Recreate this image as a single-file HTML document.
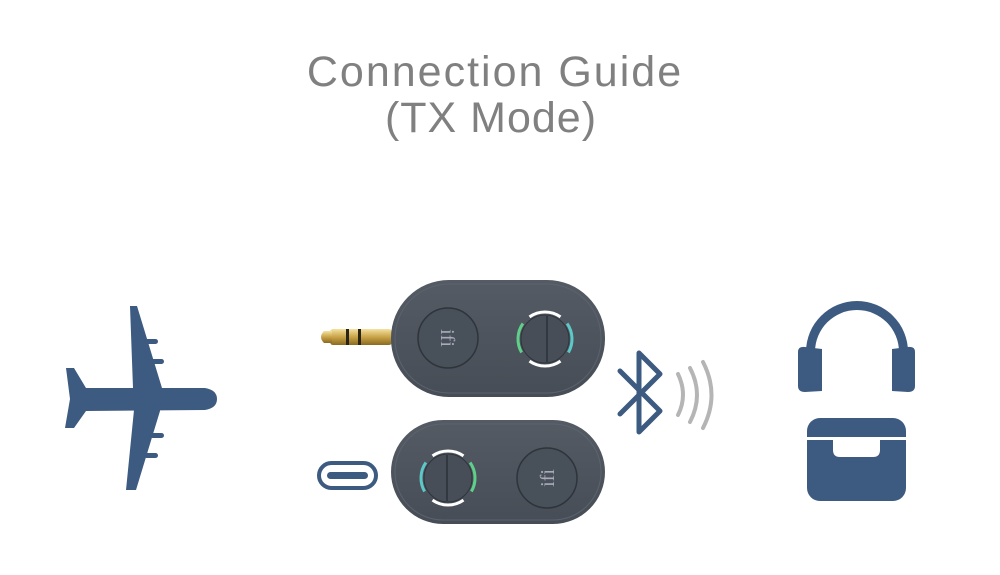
<!DOCTYPE html>
<html><head><meta charset="utf-8"><style>
html,body{margin:0;padding:0;background:#fff;}
svg{display:block}
</style></head><body>
<svg width="1000" height="575" viewBox="0 0 1000 575" xmlns="http://www.w3.org/2000/svg">
<defs>
<linearGradient id="gold" x1="0" y1="0" x2="0" y2="1">
<stop offset="0" stop-color="#f4e2a0"/><stop offset="0.5" stop-color="#c9a347"/><stop offset="1" stop-color="#8a6a22"/>
</linearGradient>
<linearGradient id="body" x1="0" y1="0" x2="0" y2="1">
<stop offset="0" stop-color="#555b64"/><stop offset="1" stop-color="#474d56"/>
</linearGradient>
</defs>
<g font-family="Liberation Sans, sans-serif" fill="#808080" text-anchor="middle">
<text x="495" y="86" font-size="43" letter-spacing="2">Connection Guide</text>
<text x="491" y="132" font-size="43" letter-spacing="1">(TX Mode)</text>
</g>

<!-- Plane -->
<g fill="#3d5a80">
<path d="M66,368 L74,368 L86,388 L205,388 Q217,390 217,399 Q217,408 205,410 L86,411 L74,428 L65,428 L70,399 Z"/>
<path d="M130,306 L137,306 L162,388 L160,411 L136,490 L126,490 L134,410 L133,388 Z"/>
<rect x="144" y="339" width="14" height="5" rx="2.5"/>
<rect x="150" y="359" width="14" height="5" rx="2.5"/>
<rect x="150" y="433" width="14" height="5" rx="2.5"/>
<rect x="144" y="453" width="14" height="5" rx="2.5"/>
</g>

<!-- Jack -->
<rect x="330" y="329" width="62" height="16" rx="3" fill="url(#gold)"/>
<path d="M324,331 Q318,337 324,343 L332,343 L332,331 Z" fill="url(#gold)"/>
<rect x="346" y="329" width="3" height="16" fill="#2a2418"/>
<rect x="358" y="329" width="3" height="16" fill="#2a2418"/>

<!-- Top device -->
<rect x="391" y="280" width="214" height="117" rx="58" fill="url(#body)"/>
<rect x="395" y="284" width="206" height="109" rx="54" fill="none" stroke="#5d636c" stroke-width="1"/>
<circle cx="448" cy="338" r="30" fill="#48505a" stroke="#2f343b" stroke-width="1.5"/>
<text x="448" y="345" font-family="Liberation Serif, serif" font-size="20" fill="#aab" text-anchor="middle" transform="rotate(90 448 338)">ifi</text>
<g fill="none" stroke-width="3">
<path d="M529.5,316.9 A27,27 0 0 1 560.5,316.9" stroke="#fff"/>
<path d="M560.5,361.1 A27,27 0 0 1 529.5,361.1" stroke="#fff"/>
<path d="M522.9,323.5 A27,27 0 0 0 521.6,352.5" stroke="#5fd08a"/>
<path d="M567.1,323.5 A27,27 0 0 1 568.4,352.5" stroke="#5cc8c8"/>
</g>
<circle cx="545" cy="339" r="24" fill="#474e58" stroke="#2f343b" stroke-width="1"/>
<line x1="547" y1="316" x2="547" y2="362" stroke="#2c3037" stroke-width="1.5"/>

<!-- USB C -->
<rect x="319" y="463" width="57" height="25" rx="12.5" fill="none" stroke="#3d5a80" stroke-width="4"/>
<rect x="327" y="472" width="41" height="7" rx="3.5" fill="#3d5a80"/>

<!-- Bottom device -->
<rect x="391" y="420" width="214" height="104" rx="52" fill="url(#body)"/>
<rect x="395" y="424" width="206" height="96" rx="48" fill="none" stroke="#5d636c" stroke-width="1"/>
<circle cx="547" cy="478" r="30" fill="#48505a" stroke="#2f343b" stroke-width="1.5"/>
<text x="547" y="485" font-family="Liberation Serif, serif" font-size="20" fill="#aab" text-anchor="middle" transform="rotate(-90 547 478)">ifi</text>
<g fill="none" stroke-width="3">
<path d="M432.5,455.9 A27,27 0 0 1 463.5,455.9" stroke="#fff"/>
<path d="M463.5,500.1 A27,27 0 0 1 432.5,500.1" stroke="#fff"/>
<path d="M425.9,462.5 A27,27 0 0 0 424.6,491.5" stroke="#5cc8c8"/>
<path d="M470.1,462.5 A27,27 0 0 1 471.4,491.5" stroke="#5fd08a"/>
</g>
<circle cx="448" cy="478" r="24" fill="#474e58" stroke="#2f343b" stroke-width="1"/>
<line x1="447" y1="455" x2="447" y2="501" stroke="#2c3037" stroke-width="1.5"/>

<!-- Bluetooth -->
<path d="M620,371 L660,411 L639,432 L639,353 L660,374 L620,414" fill="none" stroke="#3d5a80" stroke-width="5" stroke-linejoin="round" stroke-linecap="round"/>
<g fill="none" stroke="#b5b5b5" stroke-width="4" stroke-linecap="round">
<path d="M678,374 Q688,395 678,415"/>
<path d="M690,368 Q704,395 690,422"/>
<path d="M703,362 Q720,395 703,428"/>
</g>

<!-- Headphones -->
<g fill="#3d5a80">
<path d="M806,352 A51,51 0 0 1 908,352 L908,355 L899,355 L899,352 A42,42 0 0 0 815,352 L815,355 L806,355 Z"/>
<path d="M798,352 Q798,346 805,347 L822,349 L822,391 L805,392 Q798,392 798,386 Z"/>
<path d="M915,352 Q915,346 908,347 L892,349 L892,391 L908,392 Q915,392 915,386 Z"/>
</g>
<!-- Case -->
<rect x="807" y="418" width="99" height="83" rx="13" fill="#3d5a80"/>
<rect x="807" y="437" width="99" height="3" fill="#fff"/>
<path d="M833,440 L880,440 L880,450 Q880,457 873,457 L840,457 Q833,457 833,450 Z" fill="#fff"/>
</svg>
</body></html>
